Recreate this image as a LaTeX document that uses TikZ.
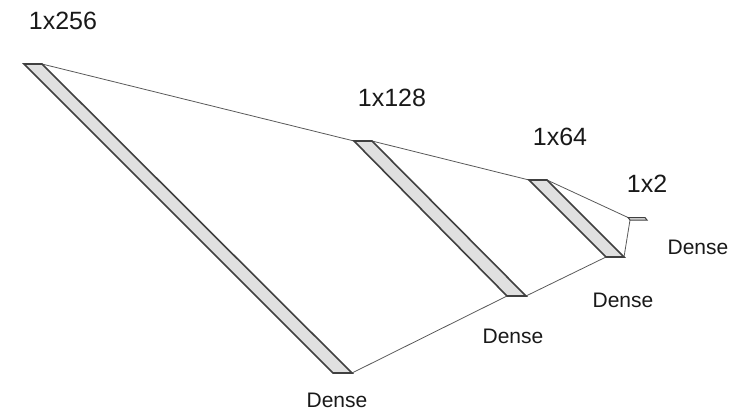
\documentclass[tikz,border=0pt]{standalone}
\usepackage{fontspec}
\setmainfont{Liberation Sans}
\begin{document}
\begin{tikzpicture}[x=1pt,y=-1pt,
  bar/.style={draw=black!75,fill=black!12,line width=1.6pt,line join=miter},
  link/.style={draw=black!65,line width=0.8pt},
  size/.style={font=\fontsize{25}{25}\selectfont,text=black!90,inner sep=0pt},
  dense/.style={font=\fontsize{21}{21}\selectfont,text=black!90,inner sep=0pt}]
\useasboundingbox (0,0) rectangle (741,412);
% bar corners
\coordinate (a1) at (24,64);  \coordinate (b1) at (42,64);
\coordinate (c1) at (352,373); \coordinate (d1) at (333,373);
\coordinate (a2) at (354,141); \coordinate (b2) at (372,141);
\coordinate (c2) at (526,296); \coordinate (d2) at (507,296);
\coordinate (a3) at (529,180); \coordinate (b3) at (547,180);
\coordinate (c3) at (624,257); \coordinate (d3) at (606,257);
\coordinate (a4) at (628,217.5); \coordinate (b4) at (645,217.5);
\coordinate (c4) at (647,220); \coordinate (d4) at (630,220);
% connectors
\draw[link] (b1) -- (a2);
\draw[link] (b2) -- (a3);
\draw[link] (b3) -- (a4);
\draw[link] (c1) -- (d2);
\draw[link] (c2) -- (d3);
\draw[link] (c3) -- (d4);
% bars
\draw[bar] (a1) -- (b1) -- (c1) -- (d1) -- cycle;
\draw[bar] (a2) -- (b2) -- (c2) -- (d2) -- cycle;
\draw[bar] (a3) -- (b3) -- (c3) -- (d3) -- cycle;
\draw[bar,line width=1pt] (a4) -- (b4) -- (c4) -- (d4) -- cycle;
% labels
\node[size] (s1) at (63,21) {1x256};
\node[size] (s2) at (392,98) {1x128};
\node[size] (s3) at (560,137) {1x64};
\node[size] (s4) at (647,184) {1x2};
\node[dense] (e1) at (337,400) {Dense};
\node[dense] (e2) at (513,336) {Dense};
\node[dense] (e3) at (623,300) {Dense};
\node[dense] (e4) at (698,247) {Dense};
\end{tikzpicture}
\end{document}
